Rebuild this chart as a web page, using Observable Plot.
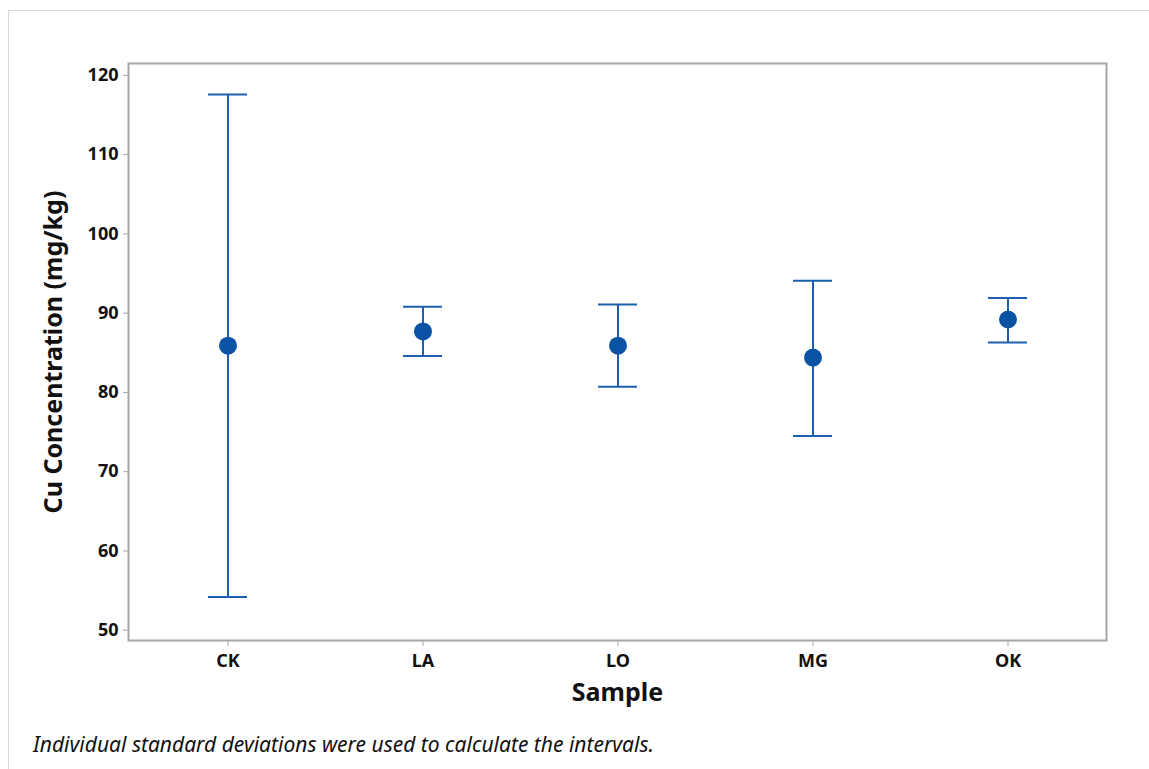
<!DOCTYPE html>
<html><head><meta charset="utf-8">
<script src="https://cdn.jsdelivr.net/npm/d3@7"></script>
<script src="https://cdn.jsdelivr.net/npm/@observablehq/plot@0.6"></script>
<style>
body{margin:0;background:#fff;font-family:"Noto Sans",sans-serif;}
#wrap{position:relative;width:1149px;height:769px;overflow:hidden;}
#border{position:absolute;left:8px;top:10px;width:2000px;height:2000px;border-left:1.5px solid #d9d9d9;border-top:1.5px solid #d9d9d9;}
#chart{position:absolute;left:0;top:0;}
#caption{position:absolute;left:33px;top:730px;font-style:italic;font-size:21px;color:#111;}
</style></head>
<body><div id="wrap"><div id="border"></div><div id="chart"></div>
<div id="caption">Individual standard deviations were used to calculate the intervals.</div></div>
<script>
const samples = ["CK","LA","LO","MG","OK"];
const means = [85.9, 87.7, 85.9, 84.4, 89.2];
const lower = [54.2, 84.6, 80.7, 74.5, 86.3];
const upper = [117.6, 90.8, 91.1, 94.1, 91.9];
const yTicks = [50,60,70,80,90,100,110,120];

const data = samples.map((s,i)=>({sample:s, mean:means[i], lo:lower[i], hi:upper[i]}));
const blue = "#1c5fae";
const dotFill = "#0a52a3";

const plot = Plot.plot({
  width: 1149,
  height: 720,
  marginLeft: 128,
  marginRight: 43,
  marginTop: 63,
  marginBottom: 80,
  style: {fontFamily: '"Noto Sans", sans-serif', background: "transparent"},
  x: {type: "band", domain: samples, padding: 0},
  y: {domain: [48.7, 121.5]},
  marks: [
    Plot.frame({stroke: "#a6a6a6", strokeWidth: 2}),
    Plot.axisY({ticks: yTicks, tickSize: 5, tickPadding: 5, stroke: "#a6a6a6", fill: "#111", fontSize: 18, fontWeight: "bold",
      label: "Cu Concentration (mg/kg)", labelAnchor: "center", labelArrow: "none", labelOffset: 84}),
    Plot.axisX({tickSize: 6, tickPadding: 8, stroke: "#a6a6a6", fill: "#111", fontSize: 18, fontWeight: "bold",
      label: "Sample", labelAnchor: "center", labelArrow: "none", labelOffset: 60}),
    Plot.ruleX(data, {x: "sample", y1: "lo", y2: "hi", stroke: blue, strokeWidth: 2}),
    Plot.tickY(data, {x: "sample", y: "hi", stroke: blue, strokeWidth: 2, insetLeft: 78, insetRight: 78}),
    Plot.tickY(data, {x: "sample", y: "lo", stroke: blue, strokeWidth: 2, insetLeft: 78, insetRight: 78}),
    Plot.dot(data, {x: "sample", y: "mean", r: 9, fill: dotFill, stroke: "none"})
  ]
});
document.getElementById("chart").appendChild(plot);
plot.querySelectorAll('g[aria-label*="tick label"] text').forEach(t=>{
  t.style.fontSize = "18px"; t.style.fontWeight = "bold";
});
plot.querySelectorAll('g[aria-label$="axis label"] text').forEach(t=>{
  t.style.fontSize = "25px"; t.style.fontWeight = "bold";
});
</script></body></html>
